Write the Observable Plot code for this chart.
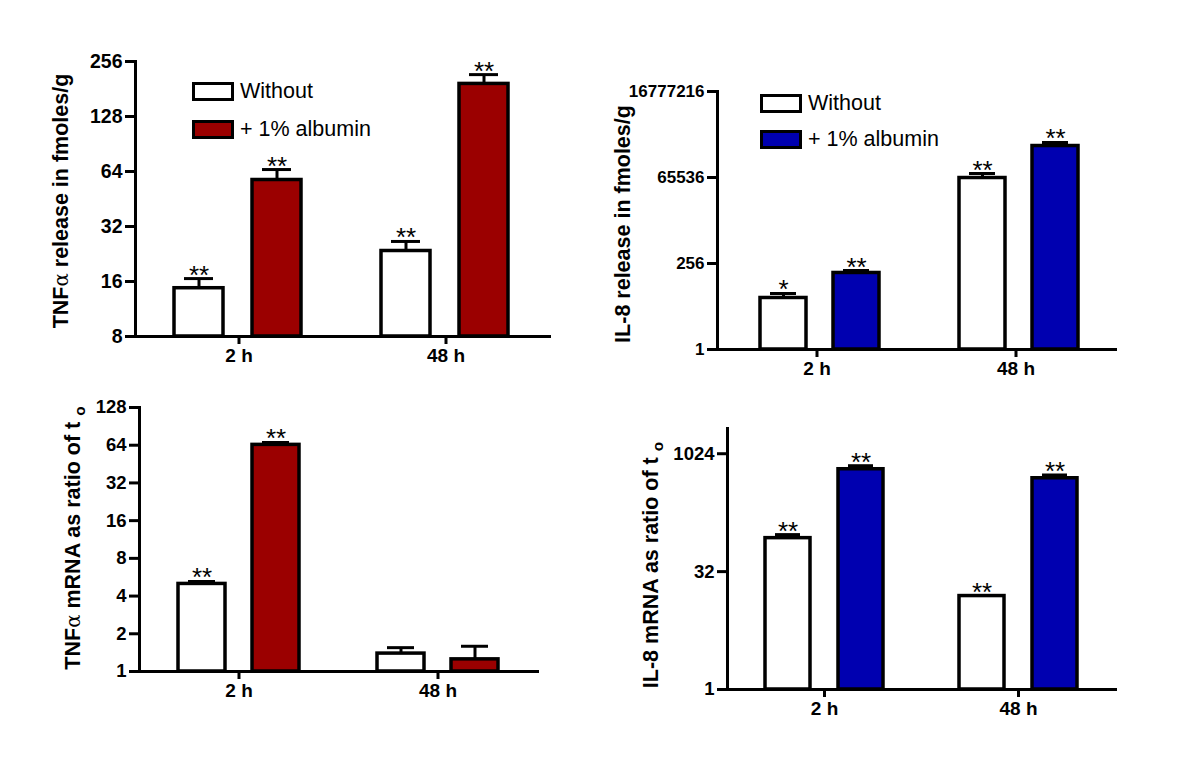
<!DOCTYPE html>
<html>
<head>
<meta charset="utf-8">
<script src="https://cdn.jsdelivr.net/npm/d3@7"></script>
<script src="https://cdn.jsdelivr.net/npm/@observablehq/plot@0.6"></script>
<style>
  body { margin: 0; background: #fff; }
  #root { position: relative; width: 1200px; height: 762px; overflow: hidden; font-family: "Liberation Sans", Arial, sans-serif; color: #000; }
  .panel { position: absolute; }
  .ytitle { position: absolute; transform: translate(-50%, -50%) rotate(-90deg); white-space: nowrap; font-weight: bold; font-size: 21.5px; line-height: 1; }
  .greek { font-family: "DejaVu Serif", serif; font-weight: normal; font-size: 92%; }
  .sub { font-size: 72%; position: relative; top: 0.3em; }
  .legend-item { position: absolute; display: flex; align-items: center; font-size: 21.5px; height: 19px; line-height: 19px; }
  .swatch { box-sizing: border-box; width: 42px; height: 19px; border: 3.5px solid #000; margin-right: 6px; }
</style>
</head>
<body>
<div id="root"></div>
<script>
// ---------- shared categories ----------
const times = ["2 h", "48 h"];
const series = ["Without", "+ 1% albumin"];

// ---------- panel A: TNFα release (fmoles/g) ----------
const tnfRelWithout      = [14.7, 23.5];   // 2 h, 48 h
const tnfRelWithoutUpper = [16.6, 26.5];
const tnfRelAlbumin      = [57.5, 193];
const tnfRelAlbuminUpper = [65.6, 217];
const tnfRelStarsWithout = ["**", "**"];
const tnfRelStarsAlbumin = ["**", "**"];
const tnfRelTicks = [8, 16, 32, 64, 128, 256];

// ---------- panel B: IL-8 release (fmoles/g) ----------
const il8RelWithout      = [27.7, 63400];
const il8RelWithoutUpper = [37, 84700];
const il8RelAlbumin      = [139, 499000];
const il8RelAlbuminUpper = [163, 627000];
const il8RelStarsWithout = ["*", "**"];
const il8RelStarsAlbumin = ["**", "**"];
const il8RelTicks = [1, 256, 65536, 16777216];

// ---------- panel C: TNFα mRNA (ratio of t0) ----------
const tnfMrnaWithout      = [5.0, 1.39];
const tnfMrnaWithoutUpper = [5.23, 1.55];
const tnfMrnaAlbumin      = [64.4, 1.25];
const tnfMrnaAlbuminUpper = [67.3, 1.59];
const tnfMrnaStarsWithout = ["**", ""];
const tnfMrnaStarsAlbumin = ["**", ""];
const tnfMrnaTicks = [1, 2, 4, 8, 16, 32, 64, 128];

// ---------- panel D: IL-8 mRNA (ratio of t0) ----------
const il8MrnaWithout      = [85.6, 15.6];
const il8MrnaWithoutUpper = [95, 15.6];
const il8MrnaAlbumin      = [649, 498];
const il8MrnaAlbuminUpper = [720, 548];
const il8MrnaStarsWithout = ["**", "**"];
const il8MrnaStarsAlbumin = ["**", "**"];
const il8MrnaTicks = [1, 32, 1024];

function rowsOf(wo, woU, wa, waU, sWo, sWa) {
  const out = [];
  times.forEach((t, i) => {
    out.push({time: t, series: series[0], mean: wo[i], upper: woU[i], star: sWo[i]});
    out.push({time: t, series: series[1], mean: wa[i], upper: waU[i], star: sWa[i]});
  });
  return out;
}

function panel(o) {
  const rows = o.rows;
  const ymin = o.yDomain[0];
  return Plot.plot({
    width: o.width, height: o.height,
    marginLeft: o.ml, marginRight: o.mr, marginTop: o.mt, marginBottom: o.mb,
    style: {fontFamily: "'Liberation Sans', Arial, sans-serif", color: "#000", background: "transparent", overflow: "visible"},
    fx: {domain: times, paddingInner: 0, paddingOuter: 0, label: null},
    x: {domain: series, paddingInner: o.pi, paddingOuter: o.po, align: o.align, axis: null},
    y: {type: "log", base: 2, domain: o.yDomain},
    color: {domain: series, range: ["#ffffff", o.color]},
    marks: [
      Plot.ruleX(rows, {fx: "time", x: "series", y1: "mean", y2: "upper", stroke: "#000", strokeWidth: 3}),
      Plot.tickY(rows, {fx: "time", x: "series", y: "upper", stroke: "#000", strokeWidth: 3, insetLeft: o.capInset, insetRight: o.capInset}),
      Plot.barY(rows, {fx: "time", x: "series", y1: ymin, y2: "mean", fill: "series", stroke: "#000", strokeWidth: 3.5}),
      Plot.text(rows, {fx: "time", x: "series", y: "upper", text: "star", lineAnchor: "bottom", dy: 5, fontSize: 26, fill: "#000"}),
      Plot.frame({anchor: "bottom", stroke: "#000", strokeWidth: 3}),
      Plot.frame({anchor: "left", facetAnchor: "left", stroke: "#000", strokeWidth: 3}),
      Plot.axisY({ticks: o.ticks, tickFormat: d => String(d), tickSize: 10, tickPadding: 3, strokeWidth: 3, label: null, fontSize: o.tickFont, fontWeight: "bold", fill: "#000", stroke: "#000"}),
      Plot.axisFx({anchor: "bottom", tickSize: 8, tickPadding: 4, strokeWidth: 3, label: null, fontSize: 19, fontWeight: "bold", fill: "#000", stroke: "#000"})
    ]
  });
}

const root = document.getElementById("root");
function place(node, left, top) {
  const d = document.createElement("div");
  d.className = "panel";
  d.style.left = left + "px";
  d.style.top = top + "px";
  d.appendChild(node);
  root.appendChild(d);
}

place(panel({
  rows: rowsOf(tnfRelWithout, tnfRelWithoutUpper, tnfRelAlbumin, tnfRelAlbuminUpper, tnfRelStarsWithout, tnfRelStarsAlbumin),
  yDomain: [8, 256], ticks: tnfRelTicks, color: "#9b0000",
  width: 600, height: 381, ml: 135, mr: 51, mt: 61, mb: 45,
  pi: 0.376, po: 0.506, align: 0.487, capInset: 10, tickFont: 19.5
}), 0, 0);

place(panel({
  rows: rowsOf(il8RelWithout, il8RelWithoutUpper, il8RelAlbumin, il8RelAlbuminUpper, il8RelStarsWithout, il8RelStarsAlbumin),
  yDomain: [1, 16777216], ticks: il8RelTicks, color: "#0000b0",
  width: 600, height: 381, ml: 117, mr: 85, mt: 91, mb: 32,
  pi: 0.37, po: 0.548, align: 0.54, capInset: 10, tickFont: 17
}), 600, 0);

place(panel({
  rows: rowsOf(tnfMrnaWithout, tnfMrnaWithoutUpper, tnfMrnaAlbumin, tnfMrnaAlbuminUpper, tnfMrnaStarsWithout, tnfMrnaStarsAlbumin),
  yDomain: [1, 128], ticks: tnfMrnaTicks, color: "#9b0000",
  width: 600, height: 381, ml: 138, mr: 63, mt: 26, mb: 91,
  pi: 0.367, po: 0.513, align: 0.494, capInset: 10, tickFont: 18.5
}), 0, 381);

place(panel({
  rows: rowsOf(il8MrnaWithout, il8MrnaWithoutUpper, il8MrnaAlbumin, il8MrnaAlbuminUpper, il8MrnaStarsWithout, il8MrnaStarsAlbumin),
  yDomain: [1, 2150], ticks: il8MrnaTicks, color: "#0000b0",
  width: 600, height: 381, ml: 126, mr: 85, mt: 47, mb: 73,
  pi: 0.381, po: 0.514, align: 0.503, capInset: 10, tickFont: 18.5
}), 600, 381);

// ---------- axis titles ----------
function title(html, cx, cy) {
  const d = document.createElement("div");
  d.className = "ytitle";
  d.style.left = cx + "px";
  d.style.top = cy + "px";
  d.innerHTML = html;
  root.appendChild(d);
}
title('TNF<span class="greek">α</span> release in fmoles/g', 62, 201);
title('IL-8 release in fmoles/g', 624, 224);
title('TNF<span class="greek">α</span> mRNA as ratio of t <span class="sub">o</span>', 74, 538);
title('IL-8 mRNA as ratio of t <span class="sub">o</span>', 652, 565);

// ---------- legends ----------
function legendItem(label, fill, left, top) {
  const d = document.createElement("div");
  d.className = "legend-item";
  d.style.left = left + "px";
  d.style.top = top + "px";
  const sw = document.createElement("span");
  sw.className = "swatch";
  sw.style.background = fill;
  const tx = document.createElement("span");
  tx.textContent = label;
  d.appendChild(sw);
  d.appendChild(tx);
  root.appendChild(d);
}
legendItem(series[0], "#ffffff", 192, 82);
legendItem(series[1], "#9b0000", 192, 120);
legendItem(series[0], "#ffffff", 760, 94);
legendItem(series[1], "#0000b0", 760, 130);
</script>
</body>
</html>
